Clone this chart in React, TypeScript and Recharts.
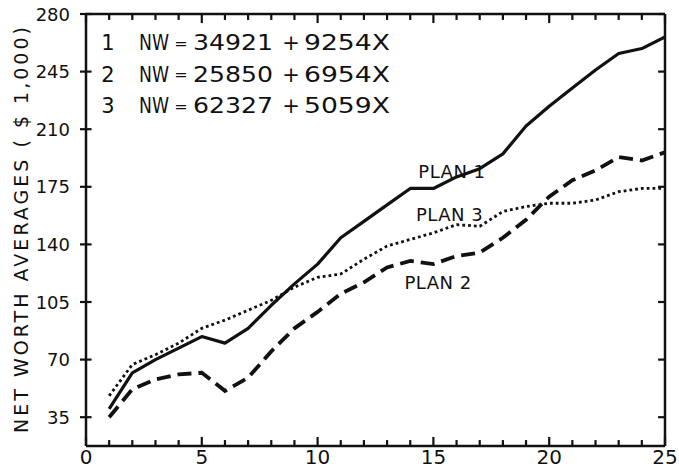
import React from "react";
import { LineChart, Line, XAxis, YAxis, ReferenceDot, ReferenceLine, Label } from "recharts";

const INK = "#111";
const FONT = "'DejaVu Sans', sans-serif";

// years of operation
const years = [1, 2, 3, 4, 5, 6, 7, 8, 9, 10, 11, 12, 13, 14, 15, 16, 17, 18, 19, 20, 21, 22, 23, 24, 25];

// net worth averages, $1,000
const plan1 = [40, 62, 70, 77, 84, 80, 89, 103, 116, 128, 144, 154, 164, 174, 174, 181, 186, 195, 212, 224, 235, 246, 256, 259, 266];
const plan2 = [35, 52, 58, 61, 62, 51, 59, 75, 89, 99, 110, 117, 126, 130, 128, 133, 135, 144, 155, 169, 179, 185, 193, 191, 196];
const plan3 = [48, 67, 73, 80, 89, 94, 100, 106, 114, 120, 122, 131, 139, 143, 147, 152, 151, 160, 163, 165, 165, 167, 172, 174, 174];

const xTicks = [0, 1, 2, 3, 4, 5, 6, 7, 8, 9, 10, 11, 12, 13, 14, 15, 16, 17, 18, 19, 20, 21, 22, 23, 24, 25];
const yTicks = [35, 70, 105, 140, 175, 210, 245, 280];

const equations = [
  { id: "1", intercept: "34921", slope: "9254X" },
  { id: "2", intercept: "25850", slope: "6954X" },
  { id: "3", intercept: "62327", slope: "5059X" },
];

const planLabels = [
  { name: "PLAN 1", year: 15.8, value: 184 },
  { name: "PLAN 3", year: 15.7, value: 158 },
  { name: "PLAN 2", year: 15.2, value: 117 },
];

const Y_MIN = 17.5;
const Y_MAX = 280;
const X_MIN = 0;
const X_MAX = 25;

const rows = years.map((year, i) => ({ year, plan1: plan1[i], plan2: plan2[i], plan3: plan3[i] }));

// tick mark lengths, in axis units
const xTickLen = (v: number) => (v % 5 === 0 ? 5.5 : 3.6);
const yTickIn = 0.24;
const yTickOut = 0.26;

const BottomTick = ({ x, y, payload }: any) =>
  payload.value % 5 === 0 ? (
    <text x={x} y={y + 11} textAnchor="middle" dominantBaseline="central" fontSize={20} fontFamily={FONT} fill={INK}>
      {payload.value}
    </text>
  ) : (
    <g />
  );

const LeftTick = ({ x, y, payload }: any) => (
  <text x={x - 16} y={y} textAnchor="end" dominantBaseline="central" fontSize={18} fontFamily={FONT} fill={INK}>
    {payload.value}
  </text>
);

const YTitle = ({ viewBox }: any) => {
  const cx = viewBox.x + 21;
  const cy = viewBox.y + viewBox.height / 2;
  return (
    <text
      x={cx}
      y={cy}
      transform={`rotate(-90, ${cx}, ${cy})`}
      textAnchor="middle"
      dominantBaseline="central"
      fontSize={19}
      textLength={406}
      lengthAdjust="spacing"
      fontFamily={FONT}
      fill={INK}
    >
      NET WORTH AVERAGES ( $ 1,000)
    </text>
  );
};

const axisLine = { stroke: INK, strokeWidth: 2.5 };

const mark = (key: string, segment: { x: number; y: number }[]) => (
  <ReferenceLine
    key={key}
    xAxisId="bottom"
    yAxisId="left"
    segment={segment}
    stroke={INK}
    strokeWidth={2.2}
    ifOverflow="visible"
  />
);

export default function App() {
  return (
    <div style={{ position: "absolute", left: 0, top: 0, width: 679, height: 470, background: "#fff" }}>
      <LineChart width={679} height={470} data={rows} margin={{ top: 14, right: 14, bottom: 0, left: 0 }}>
        <XAxis
          xAxisId="bottom"
          dataKey="year"
          type="number"
          domain={[X_MIN, X_MAX]}
          ticks={xTicks}
          interval={0}
          height={24}
          tickSize={0}
          tickMargin={0}
          tickLine={false}
          axisLine={axisLine}
          tick={<BottomTick />}
          allowDataOverflow
        />
        <YAxis
          yAxisId="left"
          type="number"
          domain={[Y_MIN, Y_MAX]}
          ticks={yTicks}
          interval={0}
          width={86}
          tickSize={0}
          tickMargin={0}
          tickLine={false}
          axisLine={axisLine}
          tick={<LeftTick />}
          allowDataOverflow
        >
          <Label content={<YTitle />} />
        </YAxis>

        {/* frame top and right edges */}
        <ReferenceLine xAxisId="bottom" yAxisId="left" y={Y_MAX} stroke={INK} strokeWidth={2.5} ifOverflow="visible" />
        <ReferenceLine xAxisId="bottom" yAxisId="left" x={X_MAX} stroke={INK} strokeWidth={2.5} ifOverflow="visible" />

        {/* tick marks on all four edges */}
        {xTicks.map((v) => mark(`b${v}`, [{ x: v, y: Y_MIN }, { x: v, y: Y_MIN + xTickLen(v) }]))}
        {xTicks.map((v) => mark(`t${v}`, [{ x: v, y: Y_MAX }, { x: v, y: Y_MAX - xTickLen(v) }]))}
        {yTicks.map((v) => mark(`l${v}`, [{ x: X_MIN - yTickOut, y: v }, { x: X_MIN + yTickIn, y: v }]))}
        {yTicks.map((v) => mark(`r${v}`, [{ x: X_MAX - 0.3, y: v }, { x: X_MAX, y: v }]))}

        <Line
          xAxisId="bottom"
          yAxisId="left"
          type="linear"
          dataKey="plan1"
          stroke={INK}
          strokeWidth={3.2}
          strokeLinejoin="round"
          dot={false}
          isAnimationActive={false}
        />
        <Line
          xAxisId="bottom"
          yAxisId="left"
          type="linear"
          dataKey="plan2"
          stroke={INK}
          strokeWidth={3.8}
          strokeDasharray="14 7"
          dot={false}
          isAnimationActive={false}
        />
        <Line
          xAxisId="bottom"
          yAxisId="left"
          type="linear"
          dataKey="plan3"
          stroke={INK}
          strokeWidth={2.8}
          strokeDasharray="2.8 3"
          dot={false}
          isAnimationActive={false}
        />

        {planLabels.map((p) => (
          <ReferenceDot
            key={p.name}
            xAxisId="bottom"
            yAxisId="left"
            x={p.year}
            y={p.value}
            r={0}
            fill="none"
            stroke="none"
            label={{ value: p.name, position: "center", fill: INK, fontSize: 18, fontFamily: FONT, letterSpacing: 0.5 }}
          />
        ))}

        {/* fitted regression lines, top-left corner; wide lettering via stretched glyphs */}
        <g fontFamily={FONT} fontSize={21} fill={INK}>
          {equations.map((eq, i) => {
            const y = 43 + i * 31.5;
            return (
              <g key={eq.id}>
                <text x={108} y={y} textAnchor="middle" dominantBaseline="central">{eq.id}</text>
                <text x={139} y={y} dominantBaseline="central" textLength={30} lengthAdjust="spacingAndGlyphs">NW</text>
                <text x={181} y={y} textAnchor="middle" dominantBaseline="central" fontSize={16}>=</text>
                <text x={193} y={y} dominantBaseline="central" textLength={80} lengthAdjust="spacingAndGlyphs">{eq.intercept}</text>
                <text x={291} y={y} textAnchor="middle" dominantBaseline="central">+</text>
                <text x={304} y={y} dominantBaseline="central" textLength={86} lengthAdjust="spacingAndGlyphs">{eq.slope}</text>
              </g>
            );
          })}
        </g>
      </LineChart>
    </div>
  );
}
